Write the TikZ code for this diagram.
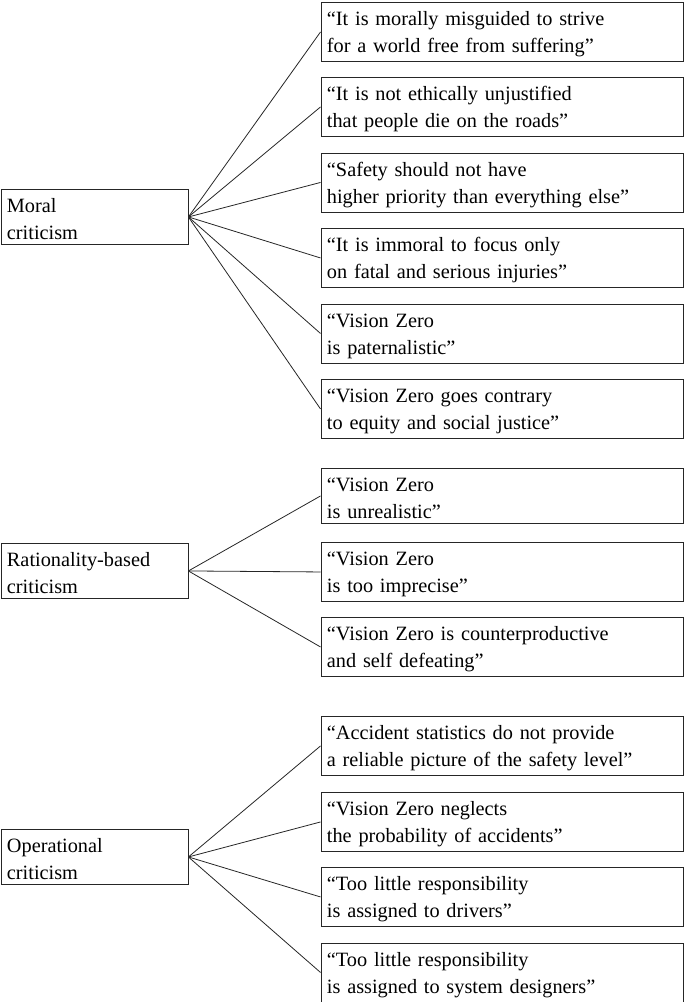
\documentclass[tikz,border=0pt]{standalone}
\usepackage{fontspec}
\setmainfont{Liberation Serif}
\begin{document}
\begin{tikzpicture}[x=1pt,y=1pt,
  crit/.style={draw=black!85, line width=0.9pt, anchor=north west, inner xsep=6pt, inner ysep=0pt, align=left, font=\fontsize{20.3}{27}\selectfont, execute at begin node={\rule{0pt}{18.5pt}}},
  claim/.style={crit, text width=350pt, minimum height=59pt},
  cat/.style={crit, text width=175pt, minimum height=55pt},
  link/.style={draw=black!85, line width=0.8pt}]
\useasboundingbox (0,0) rectangle (685,-1002);
% categories
\node[cat] (moral) at (0.5,-189) {Moral\\criticism};
\node[cat] (rat) at (0.5,-543) {Rationality-based\\criticism};
\node[cat] (op) at (0.5,-829) {Operational\\criticism};
% moral claims
\node[claim] (m1) at (320.5,-2) {“It is morally misguided to strive\\for a world free from suffering”};
\node[claim] (m2) at (320.5,-77) {“It is not ethically unjustified\\that people die on the roads”};
\node[claim] (m3) at (320.5,-152.5) {“Safety should not have\\higher priority than everything else”};
\node[claim] (m4) at (320.5,-228) {“It is immoral to focus only\\on fatal and serious injuries”};
\node[claim] (m5) at (320.5,-303.5) {“Vision Zero\\is paternalistic”};
\node[claim] (m6) at (320.5,-379) {“Vision Zero goes contrary\\to equity and social justice”};
% rationality claims
\node[claim, minimum height=55pt] (r1) at (320.5,-468) {“Vision Zero\\is unrealistic”};
\node[claim] (r2) at (320.5,-542) {“Vision Zero\\is too imprecise”};
\node[claim] (r3) at (320.5,-617) {“Vision Zero is counterproductive\\and self defeating”};
% operational claims
\node[claim] (o1) at (320.5,-716) {“Accident statistics do not provide\\a reliable picture of the safety level”};
\node[claim] (o2) at (320.5,-792) {“Vision Zero neglects\\the probability of accidents”};
\node[claim] (o3) at (320.5,-867) {“Too little responsibility\\is assigned to drivers”};
\node[claim] (o4) at (320.5,-942.5) {“Too little responsibility\\is assigned to system designers”};
% connectors
\foreach \c in {m1,m2,m3,m4,m5,m6} \draw[link] (moral.east) -- (\c.west);
\foreach \c in {r1,r2,r3} \draw[link] (rat.east) -- (\c.west);
\foreach \c in {o1,o2,o3,o4} \draw[link] (op.east) -- (\c.west);
\end{tikzpicture}
\end{document}
